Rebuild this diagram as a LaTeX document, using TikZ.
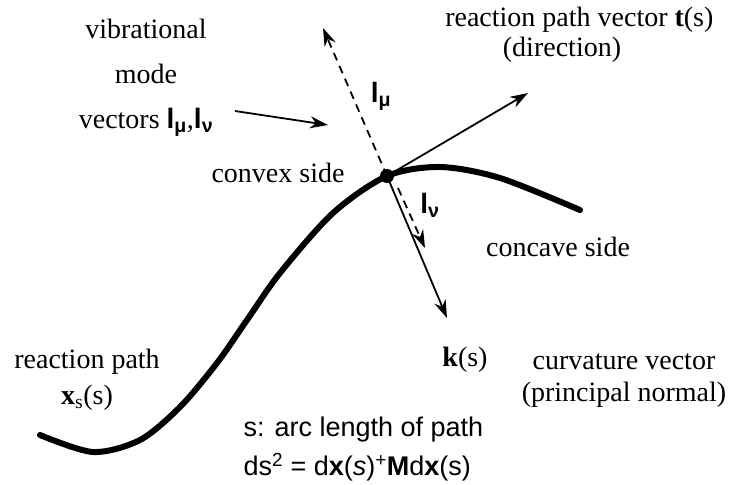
\documentclass[tikz,border=0pt]{standalone}
\usepackage{fontspec}
\setmainfont{Liberation Serif}
\setsansfont{Liberation Sans}
\usetikzlibrary{arrows.meta}

\newcommand{\lvec}[1]{\textsf{\textbf{l}}\textsubscript{\sffamily\bfseries #1}}

\begin{document}
\begin{tikzpicture}[x=1pt, y=-1pt,
  every node/.style={font=\fontsize{28}{32}\selectfont},
  sans/.style={font=\sffamily\fontsize{27}{30}\selectfont},
  vec/.style={line width=1.8pt, -{Stealth[length=18pt, width=12pt]}},
  modevec/.style={vec, dash pattern=on 8pt off 6pt}]
  \useasboundingbox (0,0) rectangle (729,485);

  % reaction path
  \draw[line width=6pt, line cap=round] plot[smooth, tension=0.5] coordinates
    {(40,435) (93,452) (140,440) (180,407) (217,363) (247,320) (280,273)
     (333,213) (387,176) (440,167) (500,178) (580,210)};
  \node[circle, fill, inner sep=0pt, minimum size=14pt] (P) at (387,176) {};

  % arrow ends
  \coordinate (muTip) at (323,28);
  \coordinate (tTip) at (528,93);
  \coordinate (kTip) at (447,318);
  \coordinate (nuFoot) at (398,188);
  \coordinate (nuTip) at (425,248);
  \coordinate (vibFoot) at (235,111);
  \coordinate (vibTip) at (328,125);

  \draw[modevec] (P.center) -- (muTip);
  \draw[modevec] (nuFoot) -- (nuTip);
  \draw[vec] (P.center) -- (tTip);
  \draw[vec] (P.center) -- (kTip);
  \draw[vec] (vibFoot) -- (vibTip);

  % labels
  \node[align=center, font=\fontsize{28}{45}\selectfont] (vib) at (146,78)
    {vibrational\\mode\\vectors \lvec{μ},\lvec{ν}};
  \node (lmu) at (381,96) {\lvec{μ}};
  \node (lnu) at (430,205) {\lvec{ν}};
  \node (convex) at (278,173) {convex side};
  \node[anchor=east] (tvec) at (717,20) {reaction path vector \textbf{t}(s)};
  \node (dir) at (562,50) {(direction)};
  \node (concave) at (558,247) {concave side};
  \node (kvec) at (465,360) {\textbf{k}(s)};
  \node[align=center] (curv) at (624,381) {curvature vector\\(principal normal)};
  \node[align=center, font=\fontsize{28}{36}\selectfont] (rpath) at (87,380)
    {reaction path\\\textbf{x}\textsubscript{s}(s)};
  \node[sans, anchor=west] (arc) at (240,430) {s: arc length of path};
  \node[sans, anchor=west] (metric) at (240,467)
    {ds\textsuperscript{2} = d\textbf{x}(\textit{s})\textsuperscript{+}\textbf{M}d\textbf{x}(s)};
\end{tikzpicture}
\end{document}
